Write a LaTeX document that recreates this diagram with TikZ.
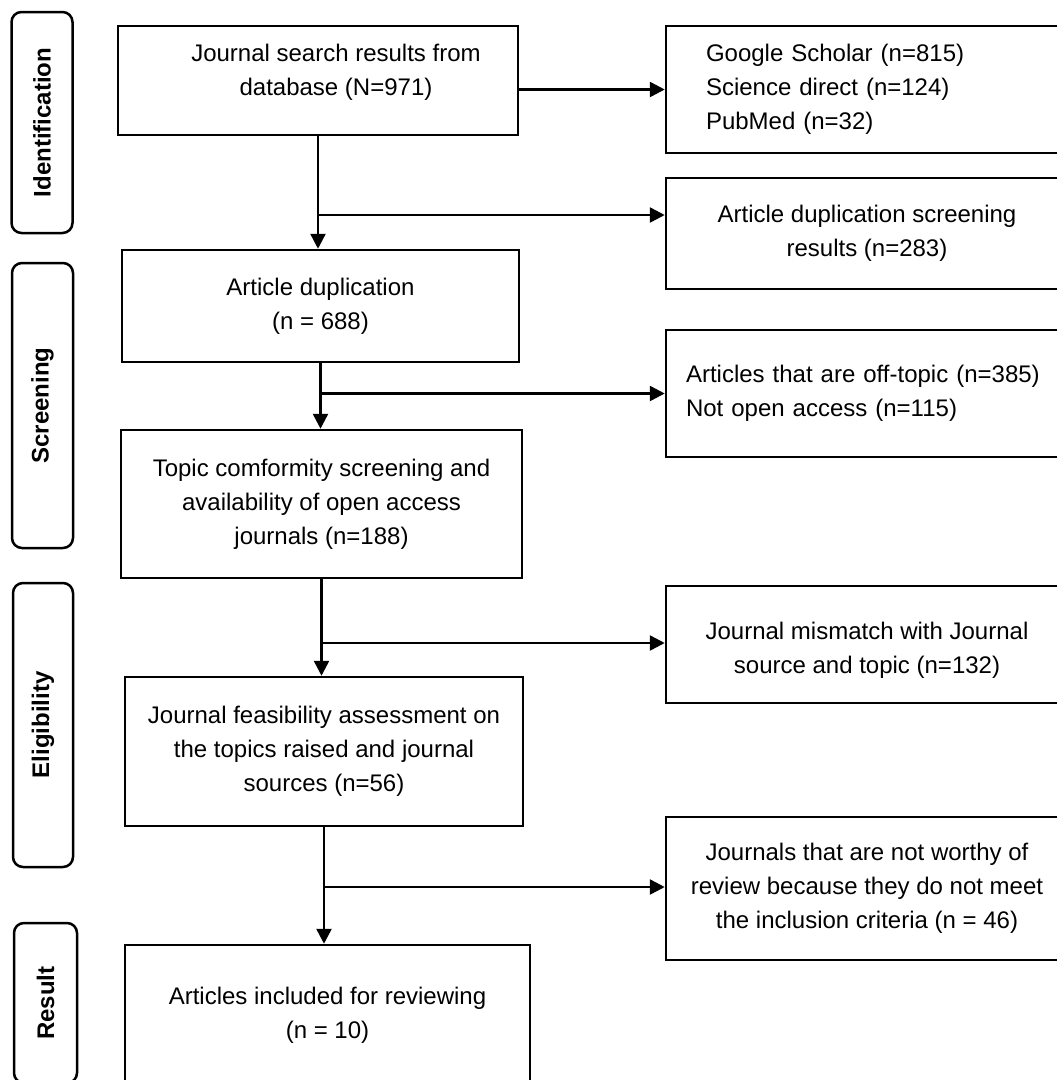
\documentclass[tikz,border=0pt]{standalone}
\usepackage{fontspec}
\setmainfont{Liberation Sans}
\usetikzlibrary{arrows.meta}

\begin{document}
\begin{tikzpicture}[x=1pt,y=-1pt,
	font=\fontsize{24}{34}\selectfont,
	box/.style={draw, line width=2.5pt, align=center, inner sep=0pt},
	stage/.style={draw, line width=2.5pt, rounded corners=10pt, rotate=90,
		font=\fontsize{24}{34}\selectfont\bfseries, inner sep=0pt},
	arr/.style={line width=2.5pt, -{Triangle[length=15pt,width=15pt]}}]
	
	\useasboundingbox (0,0) rectangle (1057,1080);
	\clip (0,0) rectangle (1057,1080);
	
	% Stages
	\node [stage, minimum width=221pt, minimum height=61pt] (ident) at (42,122.5) {Identification};
	
	\node [stage, minimum width=285pt, minimum height=61pt] (screen) at (42.5,405.5) {Screening};
	
	\node [stage, minimum width=284pt, minimum height=60pt] (elig) at (43,725) {Eligibility};
	
	\node [stage, minimum width=160pt, minimum height=63pt] (result) at (45.5,1003) {Result};
	
	% Main flow
	\node [box, minimum width=400pt, minimum height=109pt] (search) at (318,80.5) {};
	
	\node [align=center] (searchtxt) at (336,72) {Journal search results from\\database (N=971)};
	
	\node [box, minimum width=397pt, minimum height=112pt] (dup) at (320.5,306) {Article duplication\\(n = 688)};
	
	\node [box, minimum width=401pt, minimum height=148pt] (topic) at (321.5,504) {Topic comformity screening and\\availability of open access\\journals (n=188)};
	
	\node [box, minimum width=398pt, minimum height=149pt] (feas) at (324,751.5) {Journal feasibility assessment on\\the topics raised and journal\\sources (n=56)};
	
	\node [box, minimum width=405pt, minimum height=140pt] (incl) at (327.5,1015) {Articles included for reviewing\\(n = 10)};
	
	% Excluded
	\node [box, align=left, text width=322pt, inner xsep=40pt, minimum height=127pt] (srcs) at (867,89.5) {Google Scholar (n=815)\\Science direct (n=124)\\PubMed (n=32)};
	
	\node [box, minimum width=402pt, minimum height=111pt] (dupres) at (867,233.5) {Article duplication screening\\results (n=283)};
	
	\node [box, align=left, text width=362pt, inner xsep=20pt, minimum height=127pt] (offtopic) at (867,393.5) {Articles that are off-topic (n=385)\\Not open access (n=115)};
	
	\node [box, minimum width=402pt, minimum height=117pt] (mismatch) at (867,644.5) {};
	
	\node [align=center] (mismatchtxt) at (867,650) {Journal mismatch with Journal\\source and topic (n=132)};
	
	\node [box, minimum width=402pt, minimum height=143pt] (notworthy) at (867,888.5) {Journals that are not worthy of\\review because they do not meet\\the inclusion criteria (n = 46)};
	
	% Arrows
	\draw [arr] (search.south) -- (search.south |- dup.north);
	\draw [arr] (dup.south) -- (dup.south |- topic.north);
	\draw [arr] (topic.south) -- (topic.south |- feas.north);
	\draw [arr] (feas.south) -- (feas.south |- incl.north);
	
	\coordinate (br1) at (318,215);
	\coordinate (br2) at (320.5,393.5);
	\coordinate (br3) at (321.5,643);
	\coordinate (br4) at (324,887);
	
	\draw [arr] (search.east |- srcs.west) -- (srcs.west);
	\draw [arr] (br1) -- (br1 -| dupres.west);
	\draw [arr] (br2) -- (br2 -| offtopic.west);
	\draw [arr] (br3) -- (br3 -| mismatch.west);
	\draw [arr] (br4) -- (br4 -| notworthy.west);
	
\end{tikzpicture}
\end{document}
